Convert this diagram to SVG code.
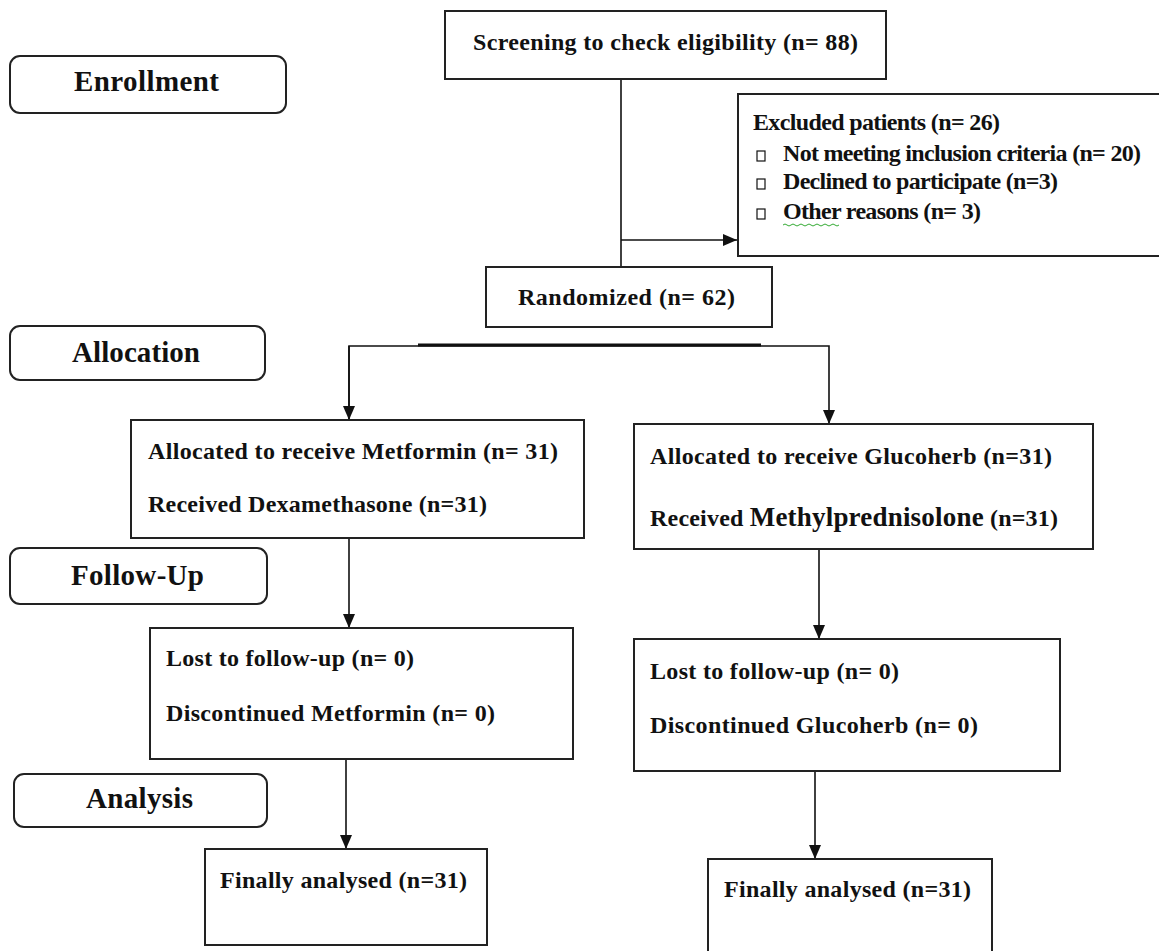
<svg xmlns="http://www.w3.org/2000/svg" width="1159" height="951" viewBox="0 0 1159 951">
<defs>
<marker id="arr" markerUnits="userSpaceOnUse" markerWidth="14" markerHeight="14" viewBox="0 0 14 14" refX="14" refY="7" orient="auto">
<path d="M0,1 L14,7 L0,13 Z" fill="#111"/>
</marker>
<style>
.box{fill:#fff;stroke:#222;stroke-width:2}
.stage{fill:#fff;stroke:#222;stroke-width:2}
.t{font-family:"Liberation Serif","Times New Roman",serif;font-weight:bold;font-size:24px;fill:#111}
.h{font-family:"Liberation Serif","Times New Roman",serif;font-weight:bold;font-size:29px;fill:#111}
.ln{fill:none;stroke:#111;stroke-width:1.6}
.bul{fill:#fff;stroke:#111;stroke-width:1.2}
</style>
</defs>
<rect width="1159" height="951" fill="#fff"/>

<g id="connectors">
<line class="ln" x1="621" y1="79" x2="621" y2="267"/>
<line class="ln" x1="621" y1="240" x2="737" y2="240" marker-end="url(#arr)"/>
<polyline class="ln" points="349,420 349,346 829,346 829,424" marker-end="url(#arr)"/>
<line x1="349" y1="346" x2="349" y2="420" class="ln" marker-end="url(#arr)"/>
<line x1="418" y1="345" x2="761" y2="345" stroke="#111" stroke-width="3"/>
<line class="ln" x1="349" y1="538" x2="349" y2="628" marker-end="url(#arr)"/>
<line class="ln" x1="819" y1="549" x2="819" y2="639" marker-end="url(#arr)"/>
<line class="ln" x1="346" y1="759" x2="346" y2="849" marker-end="url(#arr)"/>
<line class="ln" x1="815" y1="771" x2="815" y2="859" marker-end="url(#arr)"/>
</g>

<g id="stage-enrollment">
<rect class="stage" x="10" y="56" width="276" height="57" rx="10"/>
<text class="h" x="74" y="91" textLength="145" lengthAdjust="spacing">Enrollment</text>
</g>
<g id="stage-allocation">
<rect class="stage" x="10" y="326" width="255" height="54" rx="10"/>
<text class="h" x="72" y="362" textLength="128" lengthAdjust="spacing">Allocation</text>
</g>
<g id="stage-followup">
<rect class="stage" x="10" y="548" width="257" height="56" rx="10"/>
<text class="h" x="71" y="585" textLength="133" lengthAdjust="spacing">Follow-Up</text>
</g>
<g id="stage-analysis">
<rect class="stage" x="14" y="774" width="253" height="53" rx="10"/>
<text class="h" x="86" y="808" textLength="107" lengthAdjust="spacing">Analysis</text>
</g>

<g id="screening">
<rect class="box" x="445" y="11" width="441" height="68"/>
<text class="t" x="473" y="50" textLength="385" lengthAdjust="spacing">Screening to check eligibility (n= 88)</text>
</g>

<g id="excluded">
<rect class="box" x="738" y="94" width="430" height="162"/>
<text class="t" x="753" y="130" textLength="247" lengthAdjust="spacing">Excluded patients (n= 26)</text>
<rect class="bul" x="757" y="151" width="8" height="10"/>
<text class="t" x="783" y="161" textLength="358" lengthAdjust="spacing">Not meeting inclusion criteria  (n= 20)</text>
<rect class="bul" x="757" y="179" width="8" height="10"/>
<text class="t" x="783" y="189" textLength="275" lengthAdjust="spacing">Declined to participate (n=3)</text>
<rect class="bul" x="757" y="209" width="8" height="10"/>
<text class="t" x="783" y="219" textLength="198" lengthAdjust="spacing">Other reasons (n= 3)</text>
<path d="M783,225 q2,-2 4,0 t4,0 t4,0 t4,0 t4,0 t4,0 t4,0 t4,0 t4,0 t4,0 t4,0 t4,0 t4,0 t4,0" fill="none" stroke="#3a3" stroke-width="1"/>
</g>

<g id="randomized">
<rect class="box" x="486" y="267" width="286" height="60"/>
<text class="t" x="518" y="305" textLength="217" lengthAdjust="spacing">Randomized (n= 62)</text>
</g>

<g id="alloc-metformin">
<rect class="box" x="131" y="420" width="453" height="118"/>
<text class="t" x="148" y="459" textLength="410" lengthAdjust="spacing">Allocated to receive Metformin (n= 31)</text>
<text class="t" x="148" y="512" textLength="339" lengthAdjust="spacing">Received Dexamethasone (n=31)</text>
</g>

<g id="alloc-glucoherb">
<rect class="box" x="634" y="424" width="459" height="125"/>
<text class="t" x="650" y="464" textLength="402" lengthAdjust="spacing">Allocated to receive Glucoherb (n=31)</text>
<text class="t" x="650" y="526" textLength="408" lengthAdjust="spacing">Received <tspan font-size="27">Methylprednisolone</tspan> (n=31)</text>
</g>

<g id="followup-metformin">
<rect class="box" x="150" y="628" width="423" height="131"/>
<text class="t" x="166" y="666" textLength="248" lengthAdjust="spacing">Lost to follow-up (n= 0)</text>
<text class="t" x="166" y="721" textLength="329" lengthAdjust="spacing">Discontinued  Metformin (n= 0)</text>
</g>

<g id="followup-glucoherb">
<rect class="box" x="634" y="639" width="426" height="132"/>
<text class="t" x="650" y="679" textLength="249" lengthAdjust="spacing">Lost to follow-up (n= 0)</text>
<text class="t" x="650" y="733" textLength="328" lengthAdjust="spacing">Discontinued  Glucoherb (n= 0)</text>
</g>

<g id="final-metformin">
<rect class="box" x="205" y="849" width="282" height="96"/>
<text class="t" x="220" y="888" textLength="247" lengthAdjust="spacing">Finally analysed (n=31)</text>
</g>

<g id="final-glucoherb">
<rect class="box" x="708" y="859" width="284" height="100"/>
<text class="t" x="724" y="897" textLength="247" lengthAdjust="spacing">Finally analysed (n=31)</text>
</g>
</svg>
